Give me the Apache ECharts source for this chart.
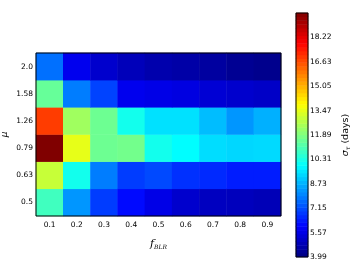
<!DOCTYPE html>
<html><head><meta charset="utf-8">
<script src="https://cdn.jsdelivr.net/npm/echarts@6/dist/echarts.min.js"></script>
<style>html,body{margin:0;padding:0;background:#fff}#c{width:360px;height:270px}</style>
</head><body><div id="c"></div>
<script>
// ---- data ----
const xCats = ['0.1','0.2','0.3','0.4','0.5','0.6','0.7','0.8','0.9'];
const yCats = ['0.5','0.63','0.79','1.26','1.58','2.0']; // bottom -> top
const row_0_5  = [10.9, 8.3, 6.9, 6.1, 5.6, 5.2, 5.0, 4.95, 4.85];
const row_0_63 = [13.0, 10.2, 7.9, 6.9, 7.1, 6.7, 6.6, 6.4, 6.4];
const row_0_79 = [19.8, 13.5, 11.6, 11.7, 10.2, 9.9, 9.4, 9.3, 9.35];
const row_1_26 = [16.9, 12.4, 11.6, 10.2, 9.45, 9.45, 8.9, 8.3, 8.7];
const row_1_58 = [11.5, 7.9, 7.0, 5.7, 5.6, 5.5, 5.3, 5.2, 5.1];
const row_2_0  = [7.7, 5.7, 5.2, 4.9, 4.7, 4.6, 4.5, 4.3, 4.2];
const cbMin = 3.99, cbMax = 19.80, cbStep = 1.581;
const cbTicks = ['3.99','5.57','7.15','8.73','10.31','11.89','13.47','15.05','16.63','18.22'];

// ---- build ----
const rows = [row_0_5, row_0_63, row_0_79, row_1_26, row_1_58, row_2_0];
const heat = [];
rows.forEach((r, yi) => r.forEach((v, xi) => heat.push([xi, yi, v])));

function jet(t){
  const c = x => Math.max(0, Math.min(1, x));
  const r = c(Math.min(4*t-1.5, -4*t+4.5));
  const g = c(Math.min(4*t-0.5, -4*t+3.5));
  const b = c(Math.min(4*t+0.5, -4*t+2.5));
  return 'rgb(' + Math.round(r*255) + ',' + Math.round(g*255) + ',' + Math.round(b*255) + ')';
}
const jetColors = [];
for (let i = 0; i <= 64; i++) jetColors.push(jet(i/64));

const nLev = 64;
const levCats = [], cbData = [];
for (let k = 0; k < nLev; k++) {
  levCats.push(String(k));
  cbData.push([0, k, cbMin + (k + 0.5) * (cbMax - cbMin) / nLev]);
}

const font = 'DejaVu Sans';
const chart = echarts.init(document.getElementById('c'), null, {renderer: 'canvas'});
const lbl = {color: '#000', fontSize: 7.5, fontFamily: font};
chart.setOption({
  animation: false,
  backgroundColor: '#fff',
  grid: [
    {left: 36, top: 53, width: 245, height: 163, containLabel: false, outerBoundsMode: 'none', show: true, borderColor: '#000', borderWidth: 1, backgroundColor: 'transparent', z: 10},
    {left: 296, top: 13, width: 12, height: 244, containLabel: false, outerBoundsMode: 'none', show: true, borderColor: '#000', borderWidth: 1, backgroundColor: 'transparent', z: 10}
  ],
  xAxis: [
    {type: 'category', data: xCats, gridIndex: 0, position: 'bottom',
     axisLine: {show: false}, axisTick: {inside: true, alignWithLabel: true, length: 3, lineStyle: {color: '#000'}},
     axisLabel: Object.assign({margin: 5}, lbl), splitLine: {show: false},
     name: '{a|f}{b|BLR}', nameLocation: 'middle', nameGap: 22,
     nameTextStyle: {rich: {
       a: {fontFamily: 'DejaVu Serif', fontStyle: 'italic', fontSize: 11, color: '#000'},
       b: {fontFamily: 'DejaVu Serif', fontStyle: 'italic', fontSize: 6, color: '#000', padding: [6, 0, 0, 0]}
     }}},
    {type: 'category', data: xCats, gridIndex: 0, position: 'top',
     axisLine: {show: false}, axisTick: {inside: true, alignWithLabel: true, length: 3, lineStyle: {color: '#000'}},
     axisLabel: {show: false}, splitLine: {show: false}},
    {type: 'category', data: ['c'], gridIndex: 1, show: false}
  ],
  yAxis: [
    {type: 'category', data: yCats, gridIndex: 0, position: 'left',
     axisLine: {show: false}, axisTick: {inside: true, alignWithLabel: true, length: 3, lineStyle: {color: '#000'}},
     axisLabel: Object.assign({margin: 3}, lbl), splitLine: {show: false},
     name: 'μ', nameLocation: 'middle', nameGap: 27, nameRotate: 90, nameMoveOverlap: false,
     nameTextStyle: {fontFamily: font, fontStyle: 'italic', fontSize: 9, color: '#000'}},
    {type: 'category', data: yCats, gridIndex: 0, position: 'right',
     axisLine: {show: false}, axisTick: {inside: true, alignWithLabel: true, length: 3, lineStyle: {color: '#000'}},
     axisLabel: {show: false}, splitLine: {show: false}},
    {type: 'category', data: levCats, gridIndex: 1, show: false},
    {type: 'value', gridIndex: 1, position: 'right', min: cbMin, max: cbMax, interval: cbStep,
     axisLine: {show: false}, splitLine: {show: false},
     axisTick: {inside: true, length: 3, lineStyle: {color: '#000'}},
     axisLabel: Object.assign({margin: 2, formatter: (v, i) => (cbTicks[i] !== undefined ? cbTicks[i] : '')}, lbl),
     name: '{a|σ}{b|τ}{c| (days)}', nameLocation: 'middle', nameGap: 32, nameRotate: 90,
     nameTextStyle: {rich: {
       a: {fontFamily: font, fontStyle: 'italic', fontSize: 9.5, color: '#000'},
       b: {fontFamily: font, fontStyle: 'italic', fontSize: 6, color: '#000', padding: [5, 0, 0, 0]},
       c: {fontFamily: font, fontSize: 9.5, color: '#000'}
     }}}
  ],
  visualMap: {type: 'continuous', show: false, min: cbMin, max: cbMax, seriesIndex: [0, 1], inRange: {color: jetColors}},
  series: [
    {type: 'heatmap', xAxisIndex: 0, yAxisIndex: 0, data: heat, itemStyle: {borderWidth: 0}},
    {type: 'heatmap', xAxisIndex: 2, yAxisIndex: 2, data: cbData, itemStyle: {borderWidth: 0}}
  ]
});
</script></body></html>
